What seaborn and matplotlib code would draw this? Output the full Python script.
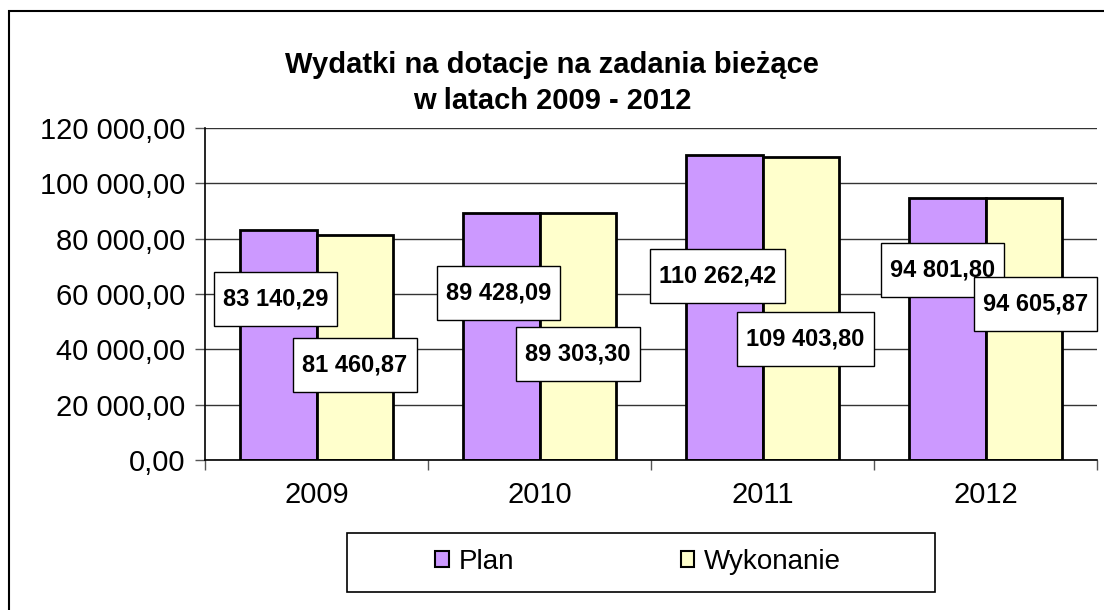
import matplotlib
matplotlib.use("Agg")
import matplotlib.pyplot as plt
import seaborn as sns
import pandas as pd
from matplotlib.patches import Rectangle
from matplotlib.path import Path
from matplotlib.ticker import FuncFormatter, FixedLocator

years = ["2009", "2010", "2011", "2012"]
plan = [83140.29, 89428.09, 110262.42, 94801.80]
wykonanie = [81460.87, 89303.30, 109403.80, 94605.87]
series_names = ["Plan", "Wykonanie"]
title = "Wydatki na dotacje na zadania bieżące\nw latach 2009 - 2012"

# label placement (layout, y in data units)
plan_label_y = [58200, 60400, 66500, 68700]
wyk_label_y = [34300, 38300, 43700, 56400]
wyk_label_dx = [0.0, 0.0, 0.02, 0.05]
plan_label_dx = [-0.01, -0.01, -0.03, -0.02]

df = pd.DataFrame({
    "Rok": years * 2,
    "Wartość": plan + wykonanie,
    "Seria": [series_names[0]] * 4 + [series_names[1]] * 4,
})

sns.set_theme(style="white")
plt.rcParams["font.family"] = ["Liberation Sans", "DejaVu Sans"]
plt.rcParams["text.color"] = "black"

W, H = 1104, 610
fig = plt.figure(figsize=(W / 100, H / 100), dpi=100)
ax = fig.add_axes([205 / W, 1 - 460 / H, (1097 - 205) / W, (460 - 128) / H])

colors = ["#CC99FF", "#FFFFCC"]
sns.barplot(data=df, x="Rok", y="Wartość", hue="Seria", palette=colors,
            width=0.69, edgecolor="black", linewidth=2, ax=ax, legend=False,
            saturation=1)

ax.set_ylim(0, 120000)
ax.set_xlim(-0.5, 3.5)
ax.set_xlabel("")
ax.set_ylabel("")
ax.yaxis.set_major_locator(FixedLocator(range(0, 120001, 20000)))

def fmt(v, pos=None):
    s = f"{v:,.2f}"
    return s.replace(",", " ").replace(".", ",")

ax.yaxis.set_major_formatter(FuncFormatter(fmt))
ax.grid(axis="y", color="#333333", linewidth=1)
ax.set_axisbelow(True)
for side in ["top", "right"]:
    ax.spines[side].set_visible(False)
for side in ["left", "bottom"]:
    ax.spines[side].set_color("black")
    ax.spines[side].set_linewidth(1.2)

ax.tick_params(axis="y", which="major", left=True, length=7, width=1, color="#555555",
               labelsize=21, pad=7, labelcolor="black")
ax.tick_params(axis="x", which="major", bottom=False, labelsize=21, pad=9, labelcolor="black")
ax.set_xticks([-0.5, 0.5, 1.5, 2.5, 3.5], minor=True)
ax.tick_params(axis="x", which="minor", bottom=True, length=7, width=1, color="#555555")


def label_box(x0, y0, width, height, mutation_size):
    px = 0.38 * mutation_size
    py = 0.66 * mutation_size
    x0, y0 = x0 - px, y0 - py
    x1, y1 = x0 + width + 2 * px, y0 + height + 2 * py
    return Path([(x0, y0), (x1, y0), (x1, y1), (x0, y1), (x0, y0)], closed=True)


# value labels
bw = 0.69 / 2
for i in range(len(years)):
    for val, ly, dx, off in [(plan[i], plan_label_y[i], plan_label_dx[i], -bw / 2),
                             (wykonanie[i], wyk_label_y[i], wyk_label_dx[i], bw / 2)]:
        ax.text(i + off + dx, ly, fmt(val), ha="center", va="center", fontsize=17,
                fontweight="bold", color="black", zorder=5,
                bbox=dict(boxstyle=label_box, facecolor="white",
                          edgecolor="black", linewidth=1))

fig.text(0.5, 1 - 83 / H, title, ha="center", va="center", fontsize=21,
         fontweight="bold", linespacing=1.38, color="black")

# outer frame
fig.patches.append(Rectangle((9 / W, -0.1), 1.2, (1 - 11 / H) + 0.1, transform=fig.transFigure,
                             fill=False, edgecolor="black", linewidth=1.5))
# legend box
fig.patches.append(Rectangle((347 / W, 1 - 592 / H), (935 - 347) / W, (592 - 533) / H,
                             transform=fig.transFigure, fill=False, edgecolor="black",
                             linewidth=1.2))
handles = [Rectangle((0, 0), 1, 1, facecolor=c, edgecolor="black", linewidth=1.5) for c in colors]
leg = fig.legend(handles, series_names, loc="center", bbox_to_anchor=(638 / W, 1 - 562 / H),
                 ncol=2, frameon=False, fontsize=20, handlelength=0.5, handleheight=0.5,
                 handletextpad=0.35, columnspacing=6.0)
for t in leg.get_texts():
    t.set_color("black")

fig.savefig("out.png", dpi=100, facecolor="white")
